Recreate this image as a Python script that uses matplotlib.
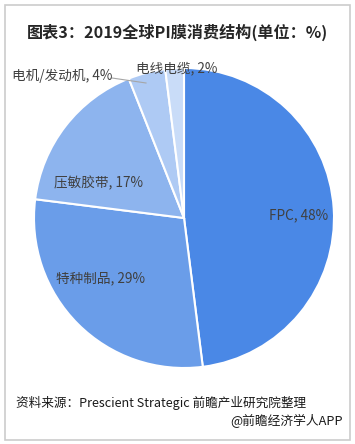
import matplotlib.pyplot as plt
from matplotlib.patches import Rectangle
import numpy as np

plt.rcParams['font.family'] = ['Noto Sans CJK SC', 'DejaVu Sans']

labels = ['FPC', '特种制品', '压敏胶带', '电机/发动机', '电线电缆']
values = [48, 29, 17, 4, 2]
colors = ['#4a88e6', '#6a9de9', '#8db4ee', '#aecaf4', '#c9dcf8']

fig = plt.figure(figsize=(3.55, 4.44), dpi=100)
fig.patches.append(Rectangle((5 / 355, 4 / 444), 345 / 355, 435 / 444, transform=fig.transFigure,
                             fill=False, edgecolor='#cccccc', linewidth=1.2))

# pie area: center (184, 218) px, radius ~150 px
cx, cy, r = 184, 218, 150
ax = fig.add_axes([(cx - r) / 355, 1 - (cy + r) / 444, 2 * r / 355, 2 * r / 444])
wedges, _ = ax.pie(values, colors=colors, startangle=90, counterclock=False,
                   wedgeprops=dict(edgecolor='white', linewidth=1.5))
ax.set_xlim(-1, 1)
ax.set_ylim(-1, 1)
ax.set_aspect('auto')

txt = '#404040'
fs = 9.8
# inside labels (positions in pixel coords)
inside = {0: (299, 215), 1: (101, 278), 2: (99, 183)}
for i, (px, py) in inside.items():
    fig.text(px / 355, 1 - py / 444, f'{labels[i]}, {values[i]}%', ha='center', va='center',
             fontsize=fs, color=txt)

fig.text(62 / 355, 1 - 76 / 444, f'{labels[3]}, {values[3]}%', ha='center', va='center',
         fontsize=fs, color=txt)
fig.add_artist(plt.Line2D([112 / 355, 146 / 355], [1 - 78 / 444, 1 - 83 / 444],
                          transform=fig.transFigure, color='#a6a6a6', linewidth=0.8))
fig.text(177 / 355, 1 - 68 / 444, f'{labels[4]}, {values[4]}%', ha='center', va='center',
         fontsize=fs, color=txt)

fig.text(27 / 355, 1 - 32 / 444, '图表3：2019全球PI膜消费结构(单位：%)', ha='left', va='center',
         fontsize=11.6, fontweight='bold', color='#262626')
fig.text(16 / 355, 1 - 403 / 444, '资料来源：Prescient Strategic 前瞻产业研究院整理', ha='left',
         va='center', fontsize=9.1, color='#1a1a1a')
fig.text(343 / 355, 1 - 421 / 444, '@前瞻经济学人APP', ha='right', va='center',
         fontsize=9.2, color='#1a1a1a')

fig.savefig('out.png', dpi=100)
